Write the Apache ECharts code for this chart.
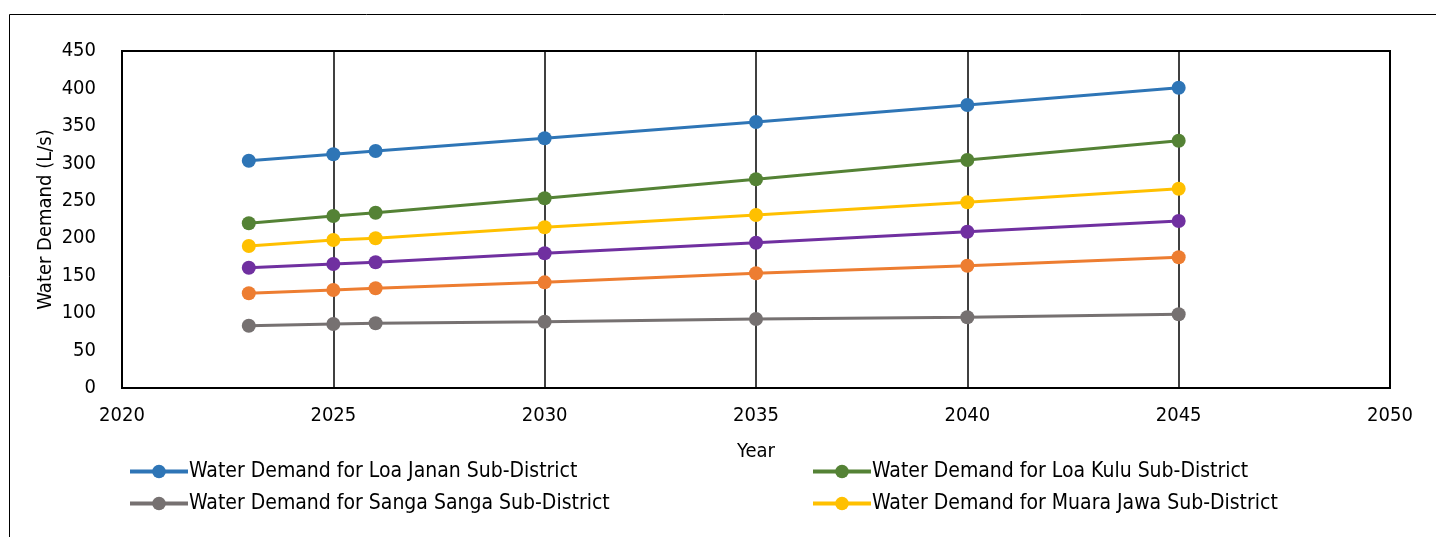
<!DOCTYPE html>
<html>
<head>
<meta charset="utf-8">
<script src="https://cdn.jsdelivr.net/npm/echarts@6/dist/echarts.min.js"></script>
<style>
  html, body { margin: 0; padding: 0; background: #fff; }
  #chart { width: 1436px; height: 537px; }
</style>
</head>
<body>
<div id="chart"></div>
<script>
// years on the x axis
const years = [2023, 2025, 2026, 2030, 2035, 2040, 2045]

// water demand (L/s) per sub-district
const loaJanan = [303.5, 312.1, 316.5, 333.4, 355.2, 377.9, 401.0]
const loaKulu = [219.9, 229.7, 234.1, 253.3, 278.7, 304.4, 330.2]
const muaraJawa = [189.6, 197.6, 199.9, 214.6, 231.0, 248.0, 266.1]
const purpleSeries = [160.6, 165.6, 167.9, 179.9, 194.0, 208.7, 223.0]
const orangeSeries = [126.5, 130.9, 133.1, 141.1, 153.2, 163.3, 174.5]
const sangaSanga = [83.2, 85.5, 86.4, 88.5, 92.1, 94.4, 98.4]

const names = {
  loaJanan: 'Water Demand for Loa Janan Sub-District',
  loaKulu: 'Water Demand for Loa Kulu Sub-District',
  sangaSanga: 'Water Demand for Sanga Sanga Sub-District',
  muaraJawa: 'Water Demand for Muara Jawa Sub-District',
  purple: 'Water Demand (purple series)',
  orange: 'Water Demand (orange series)'
}

const font = '"DejaVu Sans Condensed", "DejaVu Sans", sans-serif'

const makeSeries = (name, values, color) => ({
  name,
  type: 'line',
  data: years.map((y, i) => [y, values[i]]),
  symbol: 'circle',
  symbolSize: 14,
  lineStyle: { width: 3, color },
  itemStyle: { color },
  z: 3
})

const chart = echarts.init(document.getElementById('chart'))

const legendCommon = {
  orient: 'vertical',
  itemWidth: 58,
  itemHeight: 17,
  itemGap: 11,
  lineStyle: { width: 4 },
  textStyle: { fontFamily: font, fontSize: 21, lineHeight: 20, color: '#000', padding: [0, 0, 0, -4] }
}

chart.setOption({
  animation: false,
  backgroundColor: '#fff',
  textStyle: { fontFamily: font },
  graphic: [{
    type: 'rect',
    shape: { x: 9.5, y: 14.5, width: 1460, height: 600 },
    style: { fill: 'none', stroke: '#000', lineWidth: 1 },
    silent: true
  }],
  legend: [
    Object.assign({ left: 123, top: 456, data: [names.loaJanan, names.sangaSanga] }, legendCommon),
    Object.assign({ left: 806, top: 456, data: [names.loaKulu, names.muaraJawa] }, legendCommon)
  ],
  grid: { left: 122, right: 46, top: 51, bottom: 149, show: true, borderColor: '#000', borderWidth: 2, backgroundColor: 'transparent' },
  xAxis: {
    type: 'value',
    min: 2020,
    max: 2050,
    interval: 5,
    name: 'Year',
    nameLocation: 'middle',
    nameGap: 54,
    nameTextStyle: { fontFamily: font, fontSize: 20, color: '#000' },
    axisLine: { lineStyle: { color: '#000', width: 2 } },
    axisTick: { show: false },
    axisLabel: { fontFamily: font, fontSize: 20, color: '#000', margin: 18, formatter: v => String(v) },
    splitLine: { show: true, lineStyle: { color: '#000', width: 1.5 } }
  },
  yAxis: {
    type: 'value',
    min: 0,
    max: 450,
    interval: 50,
    name: 'Water Demand (L/s)',
    nameLocation: 'middle',
    nameGap: 66,
    nameMoveOverlap: false,
    nameTextStyle: { fontFamily: font, fontSize: 20, color: '#000' },
    axisLine: { show: true, lineStyle: { color: '#000', width: 2 } },
    axisTick: { show: false },
    axisLabel: { fontFamily: font, fontSize: 20, color: '#000', margin: 26 },
    splitLine: { show: false }
  },
  series: [
    makeSeries(names.loaJanan, loaJanan, '#2E75B6'),
    makeSeries(names.loaKulu, loaKulu, '#548235'),
    makeSeries(names.muaraJawa, muaraJawa, '#FFC000'),
    makeSeries(names.purple, purpleSeries, '#7030A0'),
    makeSeries(names.orange, orangeSeries, '#ED7D31'),
    makeSeries(names.sangaSanga, sangaSanga, '#767171')
  ]
})
</script>
</body>
</html>
